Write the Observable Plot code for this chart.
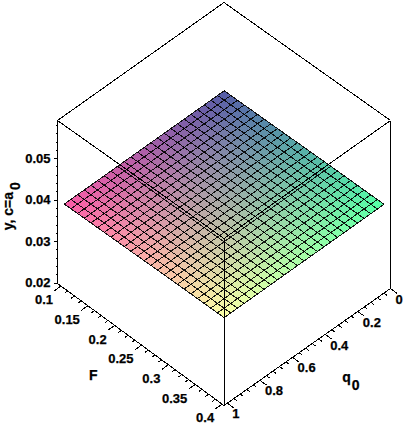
<!DOCTYPE html>
<html>
<head>
<meta charset="utf-8">
<style>html,body{margin:0;padding:0;background:#fff}svg{display:block}</style>
<script src="https://cdn.jsdelivr.net/npm/d3@7"></script>
<script src="https://cdn.jsdelivr.net/npm/@observablehq/plot@0.6"></script>
</head>
<body>
<div id="chart"></div>
<script>
// axis ticks
const fMajor = [0.1, 0.15, 0.2, 0.25, 0.3, 0.35, 0.4];
const fLabels = ["0.1", "0.15", "0.2", "0.25", "0.3", "0.35", "0.4"];
const fMinor = [0.1125, 0.125, 0.1375, 0.1625, 0.175, 0.1875, 0.2125, 0.225, 0.2375, 0.2625, 0.275, 0.2875, 0.3125, 0.325, 0.3375, 0.3625, 0.375, 0.3875];
const qMajor = [0, 0.2, 0.4, 0.6, 0.8, 1];
const qLabels = ["0", "0.2", "0.4", "0.6", "0.8", "1"];
const qMinor = [0.04, 0.08, 0.12, 0.16, 0.24, 0.28, 0.32, 0.36, 0.44, 0.48, 0.52, 0.56, 0.64, 0.68, 0.72, 0.76, 0.84, 0.88, 0.92, 0.96];
const zMajor = [0.02, 0.03, 0.04, 0.05];
const zLabels = ["0.02", "0.03", "0.04", "0.05"];
const zMinor = [0.022, 0.024, 0.026, 0.028, 0.032, 0.034, 0.036, 0.038, 0.042, 0.044, 0.046, 0.048, 0.052, 0.054, 0.056, 0.058];

// surface samples
const surfaceF = [0.1, 0.1124, 0.1248, 0.1372, 0.1496, 0.162, 0.1744, 0.1868, 0.1992, 0.2116, 0.224, 0.2364, 0.2488, 0.2612, 0.2736, 0.286, 0.2984, 0.3108, 0.3232, 0.3356, 0.348, 0.3604, 0.3728, 0.3852, 0.3976];
const surfaceQ = [0.02, 0.0608, 0.1017, 0.1425, 0.1833, 0.2242, 0.265, 0.3058, 0.3467, 0.3875, 0.4283, 0.4692, 0.51, 0.5508, 0.5917, 0.6325, 0.6733, 0.7142, 0.755, 0.7958, 0.8367, 0.8775, 0.9183, 0.9592, 1];
const heightAlongF = [0.0391, 0.03912, 0.03914, 0.03916, 0.03918, 0.0392, 0.03922, 0.03924, 0.03926, 0.03928, 0.0393, 0.03932, 0.03934, 0.03936, 0.03938, 0.0394, 0.03942, 0.03943, 0.03944, 0.03945, 0.03946, 0.03947, 0.03948, 0.03949, 0.0395];
const riseAlongQ = [0.0001, 0.0001, 0.0001, 0.00009, 0.00009, 0.00008, 0.00008, 0.00007, 0.00007, 0.00006, 0.00006, 0.00005, 0.00005, 0.00005, 0.00004, 0.00004, 0.00003, 0.00003, 0.00002, 0.00002, 0.00001, 0.00001, 0.00001, 0, 0];

// box extents and the view of the box
const fBox = [0.0935, 0.4035];
const qBox = [0, 1.02];
const zBox = [0.0199, 0.0592];

function view(F, q0, z) {
  const f = (F - fBox[0]) / (fBox[1] - fBox[0]);
  const q = (q0 - qBox[0]) / (qBox[1] - qBox[0]);
  const t = (z - zBox[0]) / (zBox[1] - zBox[0]);
  const low = 166 + 122 * f + 117 * q;
  const high = 2 + 118 * f + 118 * q;
  return {x: 223.5 + 166.5 * (f - q), y: low + (high - low) * t, F, q0, z};
}

const zAt = (i, j) => heightAlongF[i] + riseAlongQ[j];
const fill = (i, j) => {
  const f = (i + 0.5) / (surfaceF.length - 1);
  const q = (j + 0.5) / (surfaceQ.length - 1);
  return `rgb(${Math.round(84 + 170 * q)},${Math.round(92 + 165 * f)},168)`;
};

const cells = [];
for (let i = 0; i < surfaceF.length - 1; i++) {
  for (let j = 0; j < surfaceQ.length - 1; j++) {
    const color = fill(i, j), id = `${i}-${j}`;
    for (const [a, b] of [[i, j], [i + 1, j], [i + 1, j + 1], [i, j + 1]]) {
      cells.push({...view(surfaceF[a], surfaceQ[b], zAt(a, b)), id, color});
    }
  }
}
const mesh = [];
surfaceF.forEach((F, i) => surfaceQ.forEach((q, j) => mesh.push({...view(F, q, zAt(i, j)), id: "f" + i})));
surfaceQ.forEach((q, j) => surfaceF.forEach((F, i) => mesh.push({...view(F, q, zAt(i, j)), id: "q" + j})));

const [F0, F1] = fBox, [Q0, Q1] = qBox, [Z0, Z1] = zBox;
const edges = [
  [[F0, Q1, Z1], [F0, Q0, Z1]], [[F0, Q0, Z1], [F1, Q0, Z1]], [[F1, Q0, Z1], [F1, Q1, Z1]], [[F1, Q1, Z1], [F0, Q1, Z1]],
  [[F0, Q1, Z0], [F0, Q1, Z1]], [[F1, Q0, Z0], [F1, Q0, Z1]], [[F1, Q1, Z0], [F1, Q1, Z1]],
  [[F0, Q1, Z0], [F1, Q1, Z0]], [[F1, Q1, Z0], [F1, Q0, Z0]]
].map(([a, b]) => ({a: view(...a), b: view(...b)}));

const segs = (items, fn) => items.map(v => fn(v));
const fTicks = [
  ...segs(fMajor, F => ({a: view(F, Q1, Z0), b: view(F, Q1 + 0.04, Z0)})),
  ...segs(fMinor, F => ({a: view(F, Q1, Z0), b: view(F, Q1 + 0.02, Z0)}))
];
const qTicks = [
  ...segs(qMajor, q => ({a: view(F1, q, Z0), b: view(F1 + 0.012, q, Z0)})),
  ...segs(qMinor, q => ({a: view(F1, q, Z0), b: view(F1 + 0.006, q, Z0)}))
];
const zTickLen = {major: 4, minor: 2};
const zTicks = [
  ...zMajor.map(z => ({p: view(F0, Q1, z), len: zTickLen.major})),
  ...zMinor.map(z => ({p: view(F0, Q1, z), len: zTickLen.minor}))
];

const seg = (data) => Plot.link(data, {
  x1: d => d.a.x, y1: d => d.a.y, x2: d => d.b.x, y2: d => d.b.y,
  stroke: "#000", strokeWidth: 1, shapeRendering: "crispEdges"
});

const font = {fontFamily: "'Liberation Sans', Arial, sans-serif", fontWeight: "bold", fontSize: 13, fill: "#000", stroke: "#000", strokeWidth: 0.25};
const titleFont = {...font, fontSize: 14};

const plot = Plot.plot({
  width: 404, height: 424,
  margin: 0,
  x: {domain: [0, 404], range: [0, 404], axis: null},
  y: {domain: [0, 424], range: [0, 424], axis: null},
  style: {background: "#fff"},
  marks: [
    Plot.line(cells, {x: "x", y: "y", z: "id", fill: "color", stroke: "none"}),
    Plot.line(mesh, {x: "x", y: "y", z: "id", stroke: "#000", strokeWidth: 1, strokeOpacity: 0.9, shapeRendering: "crispEdges"}),
    seg(edges),
    seg(fTicks),
    seg(qTicks),
    Plot.link(zTicks, {x1: d => d.p.x, y1: d => d.p.y, x2: d => d.p.x - d.len, y2: d => d.p.y, stroke: "#000", shapeRendering: "crispEdges"}),
    Plot.text(zMajor, {x: z => view(F0, Q1, z).x, y: z => view(F0, Q1, z).y, text: (z, i) => zLabels[i], textAnchor: "end", dx: -7, ...font}),
    Plot.text(fMajor, {x: F => view(F, Q1, Z0).x, y: F => view(F, Q1, Z0).y, text: (F, i) => fLabels[i], textAnchor: "end", dx: -8, dy: 14, ...font}),
    Plot.text(qMajor, {x: q => view(F1, q, Z0).x, y: q => view(F1, q, Z0).y, text: (q, i) => qLabels[i], textAnchor: "start", dx: 5, dy: 11, ...font}),
    Plot.text([view(0.245, 1.3, Z0)], {x: "x", y: "y", text: () => "F", ...titleFont}),
    Plot.text([view(0.4788, 0.517, Z0)], {x: "x", y: "y", text: () => "q", ...titleFont}),
    Plot.text([view(0.4788, 0.517, Z0)], {x: "x", y: "y", text: () => "0", dx: 9, dy: 8, ...titleFont}),
    Plot.text([view(F0, Q1, 0.04)], {x: "x", y: "y", text: () => "y, c=a", rotate: -90, dx: -49, dy: 11, ...titleFont}),
    Plot.text([view(F0, Q1, 0.04)], {x: "x", y: "y", text: () => "0", rotate: -90, dx: -42, dy: -14, ...titleFont})
  ]
});
document.getElementById("chart").append(plot);
</script>
</body>
</html>
